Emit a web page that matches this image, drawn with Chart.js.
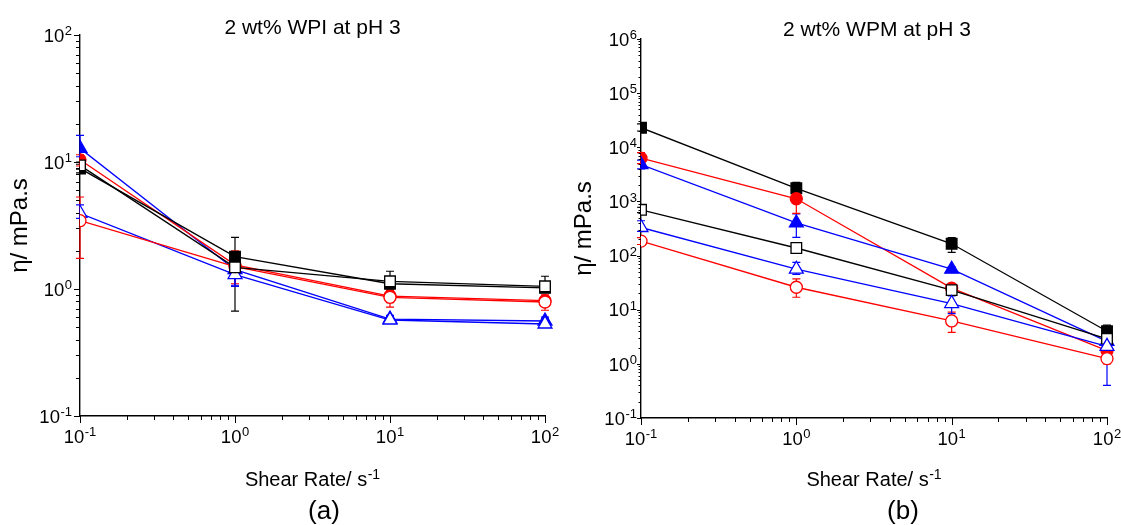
<!DOCTYPE html>
<html>
<head>
<meta charset="utf-8">
<script src="https://cdn.jsdelivr.net/npm/chart.js@4.4.1/dist/chart.umd.min.js"></script>
<style>
html,body{margin:0;padding:0;background:#fff;}
#wrap{position:relative;width:1121px;height:525px;overflow:hidden;}
canvas{position:absolute;top:0;}
</style>
</head>
<body>
<div id="wrap">
<canvas id="ca" width="560" height="525" style="left:0"></canvas>
<canvas id="cb" width="561" height="525" style="left:560px"></canvas>
</div>
<script>
// ---------- shared axis data ----------
const shearRate = [0.1, 1, 10, 100];
const xMajorTicks = [0.1, 1, 10, 100];
const xTickLabels = [['10', '-1'], ['10', '0'], ['10', '1'], ['10', '2']];
const yMajorTicksA = [0.1, 1, 10, 100];
const yTickLabelsA = [['10', '-1'], ['10', '0'], ['10', '1'], ['10', '2']];
const yMajorTicksB = [0.1, 1, 10, 100, 1000, 10000, 100000, 1000000];
const yTickLabelsB = [['10', '-1'], ['10', '0'], ['10', '1'], ['10', '2'], ['10', '3'], ['10', '4'], ['10', '5'], ['10', '6']];
const xAxisTitle = ['Shear Rate/ s', '-1'];
const yAxisTitle = 'η/ mPa.s';

// ---------- panel (a): 2 wt% WPI at pH 3 ----------
const wpiBlackFilled   = [8.9, 1.8, 1.1, 1.02];
const wpiBlackFilledLo = [8.2, 0.67, 1.0, 0.95];
const wpiBlackFilledHi = [9.6, 2.55, 1.22, 1.12];
const wpiBlackOpen     = [9.4, 1.48, 1.15, 1.05];
const wpiBlackOpenLo   = [8.8, 1.3, 1.05, 0.97];
const wpiBlackOpenHi   = [10.0, 1.75, 1.38, 1.26];
const wpiRedFilled     = [10.4, 1.55, 0.88, 0.81];
const wpiRedFilledLo   = [9.3, 1.05, 0.78, 0.74];
const wpiRedFilledHi   = [11.4, 2.0, 0.97, 0.88];
const wpiRedOpen       = [3.45, 1.5, 0.86, 0.79];
const wpiRedOpenLo     = [1.74, 1.1, 0.72, 0.68];
const wpiRedOpenHi     = [5.3, 1.9, 0.98, 0.9];
const wpiBlueFilled    = [12.8, 1.42, 0.58, 0.56];
const wpiBlueFilledLo  = [11.0, 1.07, 0.55, 0.52];
const wpiBlueFilledHi  = [16.2, 1.75, 0.62, 0.6];
const wpiBlueOpen      = [3.95, 1.3, 0.57, 0.53];
const wpiBlueOpenLo    = [3.6, 1.05, 0.54, 0.5];
const wpiBlueOpenHi    = [4.6, 1.6, 0.6, 0.58];

// ---------- panel (b): 2 wt% WPM at pH 3 ----------
const wpmBlackFilled   = [23000, 1750, 165, 4.0];
const wpmBlackFilledLo = [20000, 1450, 115, 3.3];
const wpmBlackFilledHi = [27000, 2250, 215, 5.2];
const wpmRedFilled     = [6300, 1120, 25, 1.75];
const wpmRedFilledLo   = [5000, 600, 20, 1.5];
const wpmRedFilledHi   = [8000, 1450, 30, 2.1];
const wpmBlueFilled    = [4800, 400, 56, 2.6];
const wpmBlueFilledLo  = [4000, 216, 50, 2.2];
const wpmBlueFilledHi  = [5800, 590, 62, 3.1];
const wpmBlackOpen     = [700, 138, 23, 2.9];
const wpmBlackOpenLo   = [620, 120, 20, 2.6];
const wpmBlackOpenHi   = [780, 160, 26, 3.4];
const wpmBlueOpen      = [330, 56, 13, 2.1];
const wpmBlueOpenLo    = [280, 45, 8.5, 0.4];
const wpmBlueOpenHi    = [440, 75, 18, 2.5];
const wpmRedOpen       = [185, 26, 6.2, 1.25];
const wpmRedOpenLo     = [160, 17, 3.8, 1.0];
const wpmRedOpenHi     = [215, 37, 9, 1.6];

// ---------- styles ----------
const BLACK = '#000000', RED = '#ff0000', BLUE = '#0000ff';
const FONT = '"Liberation Sans", Arial, Helvetica, sans-serif';

function series(vals, lo, hi, color, shape, filled, radius) {
  return {
    data: shearRate.map((x, i) => ({x: x, y: vals[i]})),
    errLo: lo, errHi: hi,
    borderColor: color,
    backgroundColor: color,
    borderWidth: 1.3,
    pointStyle: shape,
    pointRadius: radius,
    pointHoverRadius: radius,
    pointBorderWidth: 1.3,
    pointBorderColor: color,
    pointBackgroundColor: filled ? color : '#ffffff',
    tension: 0,
    fill: false,
    clip: {left: 0, top: false, right: false, bottom: false}
  };
}

function isPow10(v) {
  const l = Math.log10(v);
  return Math.abs(l - Math.round(l)) < 1e-9;
}
function tickList(majors) {
  const out = [];
  majors.forEach((m, i) => {
    out.push(m);
    if (i < majors.length - 1) for (let k = 2; k <= 9; k++) out.push(+(m * k).toPrecision(6));
  });
  return out;
}

// draw "base" + raised exponent; align: 'center' | 'right'; y = vertical centre of base text
function drawPow(ctx, base, exp, x, y, align, baseSize, expSize, raise) {
  ctx.font = baseSize + 'px ' + FONT;
  const wb = ctx.measureText(base).width;
  ctx.font = expSize + 'px ' + FONT;
  const we = ctx.measureText(exp).width;
  const total = wb + we + 0.5;
  let x0 = align === 'center' ? x - total / 2 : (align === 'right' ? x - total : x);
  ctx.textAlign = 'left';
  ctx.textBaseline = 'alphabetic';
  const baseline = y + baseSize * 0.36;
  ctx.font = baseSize + 'px ' + FONT;
  ctx.fillText(base, x0, baseline);
  ctx.font = expSize + 'px ' + FONT;
  ctx.fillText(exp, x0 + wb + 0.5, baseline - raise);
}

// ---------- plugins ----------
const errorBars = {
  id: 'errorBars',
  beforeDatasetsDraw(chart) {
    const {ctx, scales: {x, y}} = chart;
    chart.data.datasets.forEach(ds => {
      if (!ds.errLo) return;
      ctx.save();
      ctx.strokeStyle = ds.borderColor;
      ctx.lineWidth = 1.2;
      ds.data.forEach((p, j) => {
        const px = x.getPixelForValue(p.x);
        const yl = y.getPixelForValue(ds.errLo[j]);
        const yh = y.getPixelForValue(ds.errHi[j]);
        ctx.beginPath();
        ctx.moveTo(px, yl); ctx.lineTo(px, yh);
        ctx.moveTo(px - 4, yl); ctx.lineTo(px + 4, yl);
        ctx.moveTo(px - 4, yh); ctx.lineTo(px + 4, yh);
        ctx.stroke();
      });
      ctx.restore();
    });
  }
};

const axisDecor = {
  id: 'axisDecor',
  afterDraw(chart, args, o) {
    const ctx = chart.ctx, ca = chart.chartArea;
    const sx = chart.scales.x, sy = chart.scales.y;
    ctx.save();
    ctx.strokeStyle = '#000';
    ctx.fillStyle = '#000';
    ctx.lineWidth = 1;
    // tick marks
    sx.ticks.forEach(t => {
      const len = isPow10(t.value) ? o.xMajorLen : o.xMinorLen;
      const p = Math.round(sx.getPixelForValue(t.value)) + 0.5;
      ctx.beginPath(); ctx.moveTo(p, sx.top); ctx.lineTo(p, sx.top + len); ctx.stroke();
    });
    sy.ticks.forEach(t => {
      const len = isPow10(t.value) ? o.yMajorLen : o.yMinorLen;
      const p = Math.round(sy.getPixelForValue(t.value)) + 0.5;
      ctx.beginPath(); ctx.moveTo(sy.right, p); ctx.lineTo(sy.right - len, p); ctx.stroke();
    });
    // tick labels
    o.xMajors.forEach((v, i) => {
      drawPow(ctx, o.xLabels[i][0], o.xLabels[i][1], sx.getPixelForValue(v), sx.top + o.xLabelDy,
              'center', 18.5, 13, 6.5);
    });
    o.yMajors.forEach((v, i) => {
      drawPow(ctx, o.yLabels[i][0], o.yLabels[i][1], sy.right - o.yLabelGap, sy.getPixelForValue(v),
              'right', 18.5, 13, 6.5);
    });
    // axis titles
    drawPow(ctx, xAxisTitle[0], xAxisTitle[1], (ca.left + ca.right) / 2, o.xTitleY, 'center', 20, 14, 7.5);
    ctx.save();
    ctx.translate(o.yTitleX, (ca.top + ca.bottom) / 2);
    ctx.rotate(-Math.PI / 2);
    ctx.font = o.yTitleSize + 'px ' + FONT;
    ctx.textAlign = 'center';
    ctx.textBaseline = 'middle';
    ctx.fillText(yAxisTitle, 0, 0);
    ctx.restore();
    // panel title and label
    ctx.textAlign = 'center';
    ctx.textBaseline = 'middle';
    ctx.font = '21px ' + FONT;
    ctx.fillText(o.title, (ca.left + ca.right) / 2 + o.titleDx, o.titleY);
    ctx.font = '26px ' + FONT;
    ctx.fillText(o.label, o.labelX, o.labelY);
    ctx.restore();
  }
};

function makeChart(canvasId, datasets, p) {
  return new Chart(document.getElementById(canvasId), {
    type: 'line',
    data: {datasets: datasets},
    plugins: [errorBars, axisDecor],
    options: {
      responsive: false,
      animation: false,
      events: [],
      layout: {padding: {left: 0, right: p.padRight, top: p.padTop, bottom: 0}},
      plugins: {
        legend: {display: false},
        tooltip: {enabled: false},
        axisDecor: {
          xMajorLen: 7, xMinorLen: 4, yMajorLen: p.yMajorLen, yMinorLen: p.yMinorLen,
          xMajors: xMajorTicks, xLabels: xTickLabels, xLabelDy: 20,
          yMajors: p.yMajors, yLabels: p.yLabels, yLabelGap: p.yLabelGap,
          xTitleY: 479, yTitleX: p.yTitleX, yTitleSize: 24,
          title: p.title, titleY: p.titleY, titleDx: p.titleDx,
          label: p.label, labelX: p.labelX, labelY: 512
        }
      },
      scales: {
        x: {
          type: 'logarithmic', position: 'bottom', min: 0.1, max: 100,
          grid: {display: false, drawTicks: false, tickLength: 0},
          border: {display: true, color: '#000', width: 1.4},
          afterBuildTicks: s => { s.ticks = tickList(xMajorTicks).map(v => ({value: v})); },
          afterFit: s => { s.height = p.xHeight; },
          ticks: {display: false, autoSkip: false},
          title: {display: false}
        },
        y: {
          type: 'logarithmic', position: 'left', min: 0.1, max: p.yMax,
          grid: {display: false, drawTicks: false, tickLength: 0},
          border: {display: true, color: '#000', width: 1.4},
          afterBuildTicks: s => { s.ticks = tickList(p.yMajors).map(v => ({value: v})); },
          afterFit: s => { s.width = p.yWidth; },
          ticks: {display: false, autoSkip: false},
          title: {display: false}
        }
      }
    }
  });
}

makeChart('ca', [
  series(wpiBlackOpen,  wpiBlackOpenLo,  wpiBlackOpenHi,  BLACK, 'rect',     false, 7.5),
  series(wpiBlackFilled, wpiBlackFilledLo, wpiBlackFilledHi, BLACK, 'rect',  true,  7.5),
  series(wpiRedOpen,    wpiRedOpenLo,    wpiRedOpenHi,    RED,   'circle',   false, 6),
  series(wpiRedFilled,  wpiRedFilledLo,  wpiRedFilledHi,  RED,   'circle',   true,  6),
  series(wpiBlueOpen,   wpiBlueOpenLo,   wpiBlueOpenHi,   BLUE,  'triangle', false, 8),
  series(wpiBlueFilled, wpiBlueFilledLo, wpiBlueFilledHi, BLUE,  'triangle', true,  8)
], {
  padRight: 15, padTop: 35, xHeight: 109, yWidth: 80, yLabelGap: 8, yTitleX: 20,
  yMax: 100, yMajors: yMajorTicksA, yLabels: yTickLabelsA, yMajorLen: 6, yMinorLen: 4,
  title: '2 wt% WPI at pH 3', titleY: 28, titleDx: 0, label: '(a)', labelX: 324
});

makeChart('cb', [
  series(wpmRedOpen,    wpmRedOpenLo,    wpmRedOpenHi,    RED,   'circle',   false, 6),
  series(wpmBlueOpen,   wpmBlueOpenLo,   wpmBlueOpenHi,   BLUE,  'triangle', false, 8),
  series(wpmBlackOpen,  wpmBlackOpenLo,  wpmBlackOpenHi,  BLACK, 'rect',     false, 7.5),
  series(wpmBlueFilled, wpmBlueFilledLo, wpmBlueFilledHi, BLUE,  'triangle', true,  8),
  series(wpmRedFilled,  wpmRedFilledLo,  wpmRedFilledHi,  RED,   'circle',   true,  6),
  series(wpmBlackFilled, wpmBlackFilledLo, wpmBlackFilledHi, BLACK, 'rect',  true,  7.5)
], {
  padRight: 14, padTop: 39, xHeight: 107, yWidth: 81, yLabelGap: 4, yTitleX: 24,
  yMax: 1000000, yMajors: yMajorTicksB, yLabels: yTickLabelsB, yMajorLen: 4, yMinorLen: 2.5,
  title: '2 wt% WPM at pH 3', titleY: 30, titleDx: 3, label: '(b)', labelX: 343
});
</script>
</body>
</html>
